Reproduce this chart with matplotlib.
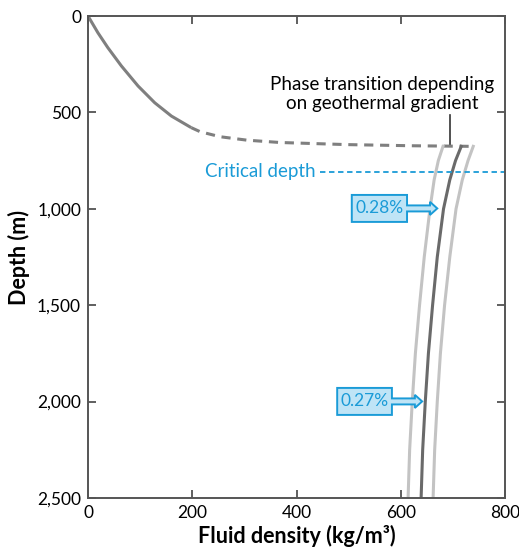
import numpy as np
import matplotlib
matplotlib.use("Agg")
import matplotlib.pyplot as plt
from matplotlib.patches import Polygon

plt.rcParams['font.family'] = ['Lato', 'DejaVu Sans']

# vapour branch (solid then dashed)
gas_density = [0, 19, 38, 64, 96, 128, 160, 198]
gas_depth = [0, 87, 164, 259, 363, 450, 519, 579]
trans_density = [198, 215, 253, 305, 368, 497, 623, 735]
trans_depth = [579, 600, 626, 644, 656, 667, 673, 676]

# supercritical branch for three geothermal gradients
sc_depth = [676, 750, 850, 1000, 1250, 1500, 1750, 2000, 2250, 2500]
sc_mid = [716, 705, 694, 682, 670, 661, 653, 647, 642, 639]
sc_low = [681, 672, 664, 656, 645, 636, 628, 622, 617, 614]
sc_high = [739, 729, 718, 706, 694, 684, 676, 670, 665, 662]

critical_depth = 809
labels = ['0.28%', '0.27%']

blue = '#1a9bd7'
fill = '#bfe4f6'

fig = plt.figure(figsize=(5.19, 5.56), dpi=100)
ax = fig.add_axes([0.1696, 0.1043, 0.8035, 0.8669])

ax.plot(gas_density, gas_depth, color='#7f7f7f', lw=2.2, solid_capstyle='butt')
ax.plot(trans_density, trans_depth, color='#7f7f7f', lw=2.2, ls=(0, (3, 2.2)))
ax.plot(sc_low, sc_depth, color='#c3c3c3', lw=2.2)
ax.plot(sc_high, sc_depth, color='#c3c3c3', lw=2.2)
ax.plot(sc_mid, sc_depth, color='#6a6a6a', lw=2.2)

# critical depth
ax.plot([445, 800], [critical_depth, critical_depth], color=blue, lw=1.3,
        ls=(0, (3, 2)))
ax.text(437, critical_depth, 'Critical depth', color=blue, fontsize=13.5,
        ha='right', va='center')

# phase transition note
ax.plot([694, 694], [513, 662], color='#333333', lw=1.2)
ax.text(564, 405, 'Phase transition depending\non geothermal gradient',
        ha='center', va='center', fontsize=13.5, linespacing=1.15)

# boxed arrows
boxes = [(506, 612, 928, 1068, 656, 670),
         (478, 583, 1929, 2069, 627, 641)]
for lab, (x0, x1, y0, y1, xs, xt) in zip(labels, boxes):
    yc = (y0 + y1) / 2
    sh, hh = 15.6, 34
    pts = [(x0, y0), (x1, y0), (x1, yc - sh), (xs, yc - sh), (xs, yc - hh),
           (xt, yc), (xs, yc + hh), (xs, yc + sh), (x1, yc + sh), (x1, y1),
           (x0, y1)]
    ax.add_patch(Polygon(pts, closed=True, facecolor=fill, edgecolor=blue,
                         lw=1.4, zorder=5))
    ax.text((x0 + x1) / 2, yc, lab, color=blue, fontsize=12.5, ha='center',
            va='center', zorder=6)

ax.set_xlim(0, 800)
ax.set_ylim(2500, 0)
ax.set_xticks([0, 200, 400, 600, 800])
ax.set_yticks([0, 500, 1000, 1500, 2000, 2500])
ax.set_yticklabels(['0', '500', '1,000', '1,500', '2,000', '2,500'])
ax.tick_params(direction='in', length=6, width=1.2, color='#444444',
               labelsize=12.5, top=True, right=True, pad=5)
for s in ax.spines.values():
    s.set_color('#555555')
    s.set_linewidth(1.4)

ax.set_xlabel('Fluid density (kg/m³)', fontsize=15.5, fontweight='bold',
              labelpad=3)
ax.set_ylabel('Depth (m)', fontsize=15.5, fontweight='bold', labelpad=5)

fig.savefig('out.png', dpi=100)
